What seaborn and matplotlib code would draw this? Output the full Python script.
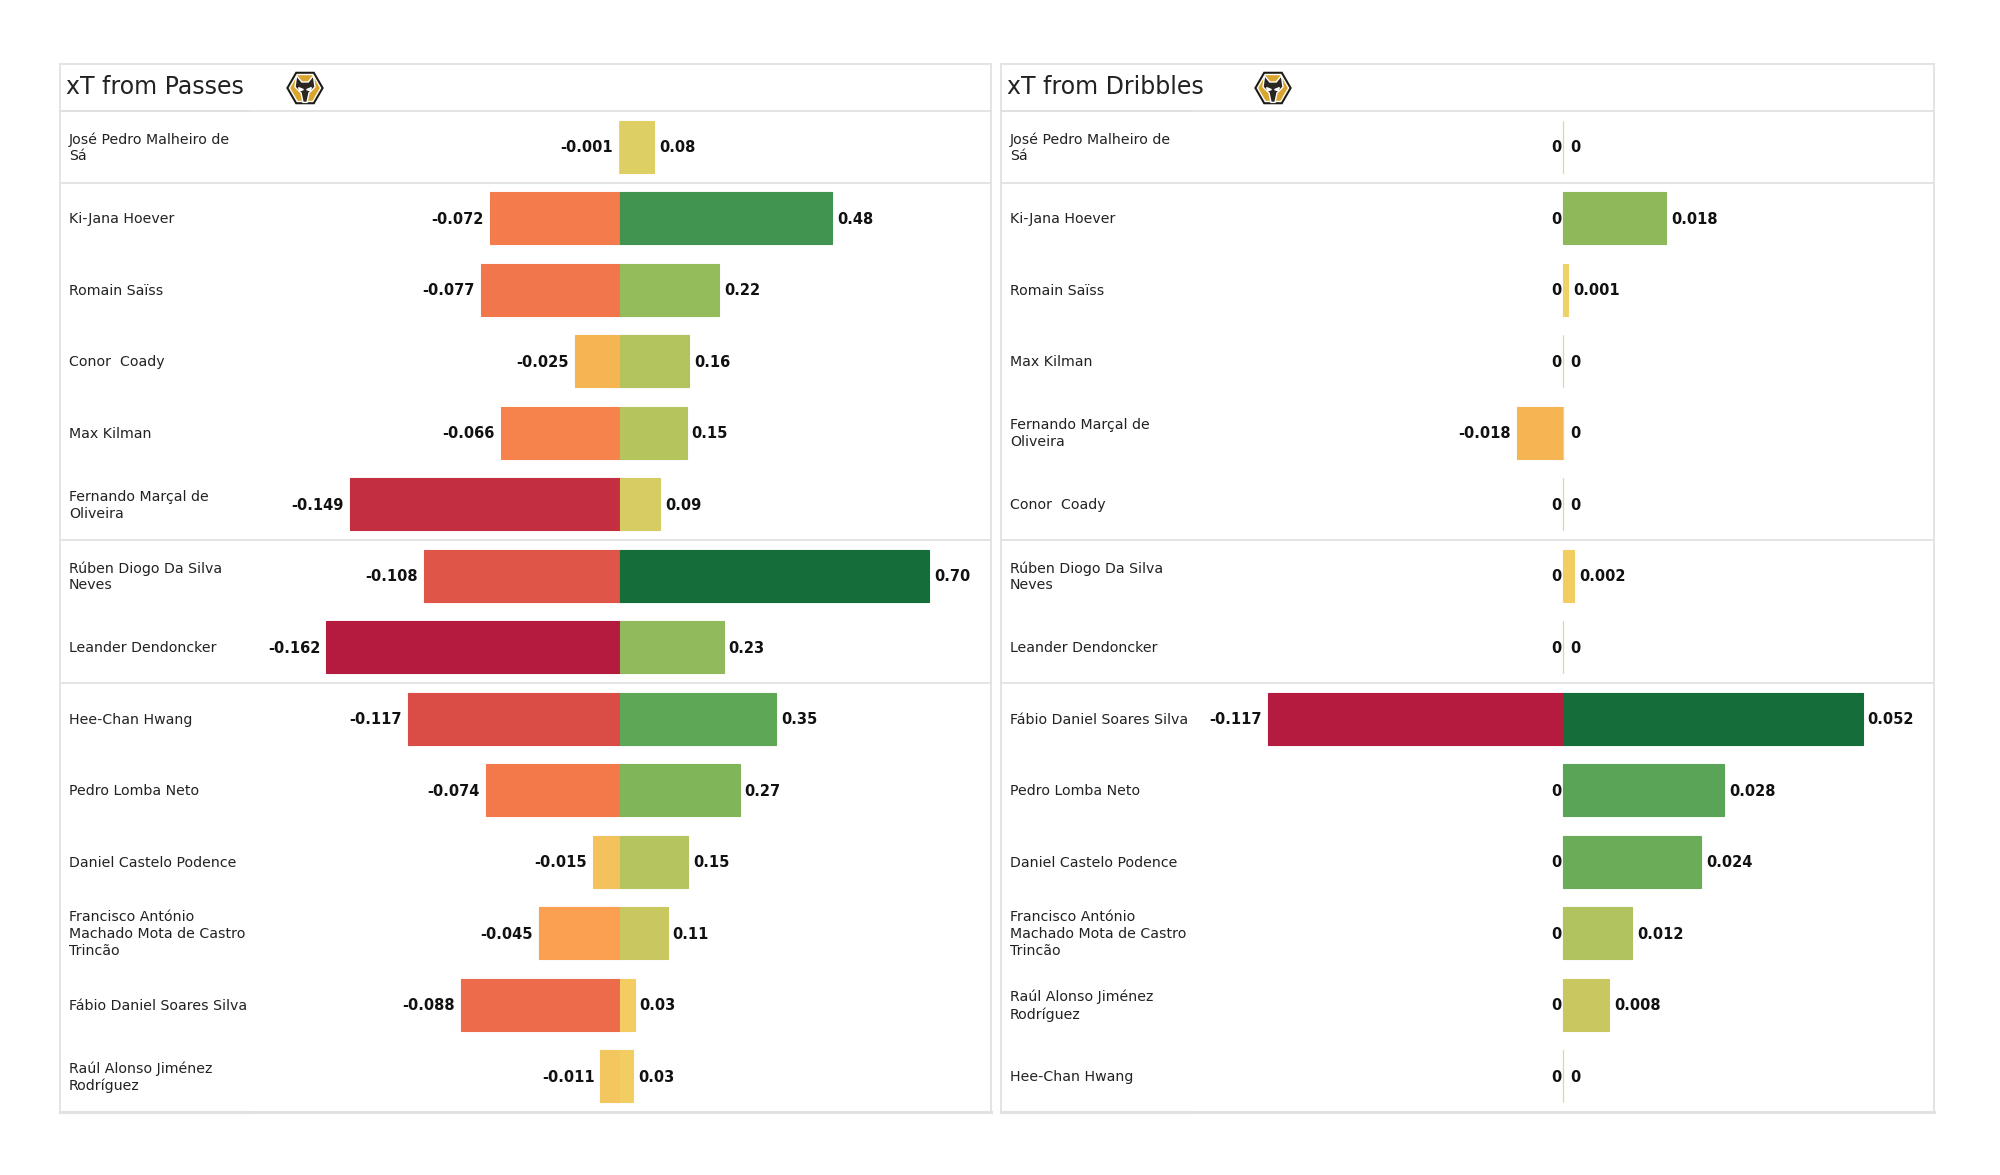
import numpy as np
import pandas as pd
import seaborn as sns
import matplotlib.pyplot as plt
from matplotlib.colors import LinearSegmentedColormap
from matplotlib.patches import Polygon

sns.set_theme(style="white")
plt.rcParams['font.family'] = ['DejaVu Sans']

passes_players = ['José Pedro Malheiro de\nSá', 'Ki-Jana Hoever', 'Romain Saïss', 'Conor  Coady', 'Max Kilman',
                  'Fernando Marçal de\nOliveira', 'Rúben Diogo Da Silva\nNeves', 'Leander Dendoncker',
                  'Hee-Chan Hwang', 'Pedro Lomba Neto', 'Daniel Castelo Podence',
                  'Francisco António\nMachado Mota de Castro\nTrincão', 'Fábio Daniel Soares Silva',
                  'Raúl Alonso Jiménez\nRodríguez']
passes_neg = [-0.001, -0.072, -0.077, -0.025, -0.066, -0.149, -0.108, -0.162, -0.117, -0.074, -0.015, -0.045, -0.088,
              -0.011]
passes_pos = [0.076, 0.48, 0.224, 0.156, 0.15, 0.09, 0.70, 0.234, 0.353, 0.27, 0.153, 0.107, 0.032, 0.028]

dribbles_players = ['José Pedro Malheiro de\nSá', 'Ki-Jana Hoever', 'Romain Saïss', 'Max Kilman',
                    'Fernando Marçal de\nOliveira', 'Conor  Coady', 'Rúben Diogo Da Silva\nNeves',
                    'Leander Dendoncker', 'Fábio Daniel Soares Silva', 'Pedro Lomba Neto', 'Daniel Castelo Podence',
                    'Francisco António\nMachado Mota de Castro\nTrincão', 'Raúl Alonso Jiménez\nRodríguez',
                    'Hee-Chan Hwang']
dribbles_neg = [0, 0, 0, 0, -0.018, 0, 0, 0, -0.117, 0, 0, 0, 0, 0]
dribbles_pos = [0, 0.018, 0.001, 0, 0, 0, 0.002, 0, 0.052, 0.028, 0.024, 0.012, 0.008, 0]

# last row of each position group
group_ends = [0, 5, 7]

neg_cmap = LinearSegmentedColormap.from_list('neg', [
    (0, '#ecd777'), (0.068, '#f3c660'), (0.154, '#f5b553'), (0.278, '#fb9f50'), (0.444, '#f47b4b'),
    (0.543, '#ec6b4a'), (0.667, '#df5548'), (0.92, '#c32e40'), (1, '#b51a3f')])
pos_cmap = LinearSegmentedColormap.from_list('pos', [
    (0, '#e8d77c'), (0.02, '#f0cf63'), (0.045, '#f3cd62'), (0.11, '#dccf64'), (0.154, '#c9c860'), (0.31, '#97bd5b'),
    (0.5, '#5fa857'), (0.69, '#3f9450'), (1, '#136e3a')])

W, H = 2000, 1175
GRID = '#e2e2e2'
DARK = '#cfcfcf'
LABEL_SIZE = 10.5
NAME_SIZE = 10.2
TITLE_SIZE = 17


def px_axes(x0, y0, x1, y1, **kw):
    return fig.add_axes([x0 / W, 1 - y1 / H, (x1 - x0) / W, (y1 - y0) / H], **kw)


def draw_logo(cx, cy):
    a = px_axes(cx - 20, cy - 20, cx + 20, cy + 20)
    a.set_xlim(-1, 1)
    a.set_ylim(-1, 1)
    a.axis('off')
    ang = np.deg2rad(np.arange(0, 360, 60))
    a.add_patch(Polygon(np.c_[0.98 * np.cos(ang), 0.98 * np.sin(ang)], fc='#1d1a15'))
    a.add_patch(Polygon(np.c_[0.78 * np.cos(ang), 0.78 * np.sin(ang)], fc='#d9a52e'))
    head = [(-0.42, 0.62), (-0.16, 0.3), (0.16, 0.3), (0.42, 0.62), (0.5, 0.05), (0.2, -0.25), (0.1, -0.72),
            (-0.1, -0.72), (-0.2, -0.25), (-0.5, 0.05)]
    a.add_patch(Polygon(head, fc='#2a2723'))
    a.add_patch(Polygon([(-0.32, 0.02), (-0.08, -0.08), (-0.26, -0.14)], fc='#f2f2f2'))
    a.add_patch(Polygon([(0.32, 0.02), (0.08, -0.08), (0.26, -0.14)], fc='#f2f2f2'))


def draw_bars(ax, players, values, colors, xlim, fmt, ha):
    df = pd.DataFrame({'player': players, 'value': values})
    sns.barplot(data=df, x='value', y='player', hue='player', palette=colors, dodge=False, legend=False,
                orient='h', width=0.725, saturation=1, ax=ax)
    for p in ax.patches:
        p.set_edgecolor(p.get_facecolor())
        p.set_linewidth(0.8)
    ax.set_xlim(*xlim)
    ax.set_ylim(13.5, -0.5)
    ax.set_xticks([])
    ax.set_yticks([])
    ax.set_xlabel('')
    ax.set_ylabel('')
    for i, v in enumerate(values):
        if ha == 'left':
            offset = 8 if v == 0 else 5
        else:
            offset = -1 if v == 0 else -6
        ax.annotate(fmt(v), (v, i), xytext=(offset, -1), textcoords='offset pixels', ha=ha, va='center',
                    fontsize=LABEL_SIZE, fontweight='bold', color='#111111')


def panel(x0, x1, title, players, neg, pos, pos_frac, fmt_neg, fmt_pos, logo_x):
    ax = px_axes(x0, 111, x1, 1112)
    zero = 0.602
    neg_max, pos_max = max(abs(v) for v in neg), max(pos)
    neg_unit = neg_max / 0.316
    pos_unit = pos_max / pos_frac
    neg_colors = [neg_cmap(abs(v) / neg_max) for v in neg]
    pos_colors = [pos_cmap(v / pos_max) for v in pos]

    draw_bars(ax, players, neg, neg_colors, (-zero * neg_unit, (1 - zero) * neg_unit), fmt_neg, 'right')
    twin = ax.twiny()
    draw_bars(twin, players, pos, pos_colors, (-zero * pos_unit, (1 - zero) * pos_unit), fmt_pos, 'left')
    for s in twin.spines.values():
        s.set_visible(False)
    for s in ax.spines.values():
        s.set_color(GRID)
        s.set_linewidth(1.3)
    ax.spines['top'].set_visible(False)
    ax.spines['bottom'].set_linewidth(2.2)

    for end in group_ends:
        ax.axhline(end + 0.5, color=GRID, lw=1.3, zorder=0)
    for i, name in enumerate(players):
        ax.annotate(name, (0.0095, i), xycoords=ax.get_yaxis_transform(), xytext=(0, -1), textcoords='offset pixels',
                    ha='left', va='center', fontsize=NAME_SIZE, color='#222222', linespacing=1.27)
    ax.plot([0, 190 / (x1 - x0)], [0, 0], transform=ax.transAxes, color=DARK, lw=2.2, clip_on=False)

    head = px_axes(x0, 64, x1, 111)
    head.set_xticks([])
    head.set_yticks([])
    for s in head.spines.values():
        s.set_color(GRID)
        s.set_linewidth(1.3)
    head.plot([0, 190 / (x1 - x0)], [0, 0], transform=head.transAxes, color=DARK, lw=1.3, clip_on=False)
    head.text(6 / (x1 - x0), 0.5, title, transform=head.transAxes, ha='left', va='center', fontsize=TITLE_SIZE,
              color='#222222')
    draw_logo(logo_x, 88)


fig = plt.figure(figsize=(20, 11.75), dpi=100)
panel(60, 991, 'xT from Passes', passes_players, passes_neg, passes_pos, 0.3315,
      lambda v: '%.3f' % v, lambda v: '%.2f' % v, 305)
panel(1001, 1934, 'xT from Dribbles', dribbles_players, dribbles_neg, dribbles_pos, 0.3215,
      lambda v: '%g' % v, lambda v: '%g' % v, 1273)
fig.savefig('out.png', dpi=100)
